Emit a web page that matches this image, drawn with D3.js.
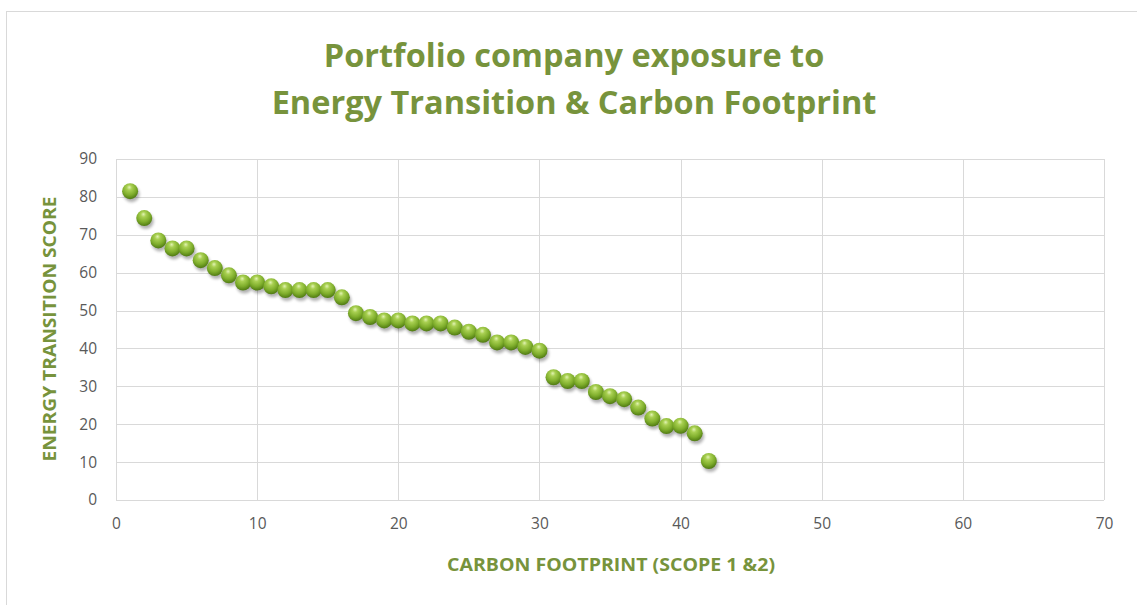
<!DOCTYPE html>
<html>
<head>
<meta charset="utf-8">
<script src="https://cdn.jsdelivr.net/npm/d3@7"></script>
<style>
  html, body { margin: 0; padding: 0; background: #fff; }
  svg { display: block; }
</style>
</head>
<body>
<svg id="chart" width="1137" height="605"></svg>
<script>
const titleLines = ["Portfolio company exposure to", "Energy Transition & Carbon Footprint"];
const xTitle = "CARBON FOOTPRINT (SCOPE 1 &2)";
const yTitle = "ENERGY TRANSITION SCORE";
const xTicks = [0, 10, 20, 30, 40, 50, 60, 70];
const yTicks = [0, 10, 20, 30, 40, 50, 60, 70, 80, 90];
const carbonFootprint = [1,2,3,4,5,6,7,8,9,10,11,12,13,14,15,16,17,18,19,20,21,22,23,24,25,26,27,28,29,30,31,32,33,34,35,36,37,38,39,40,41,42];
const transitionScore = [81.5,74.4,68.5,66.4,66.4,63.3,61.2,59.3,57.4,57.4,56.4,55.4,55.4,55.4,55.4,53.5,49.3,48.3,47.4,47.4,46.6,46.6,46.6,45.5,44.4,43.6,41.6,41.6,40.4,39.4,32.4,31.4,31.4,28.5,27.4,26.6,24.4,21.5,19.5,19.6,17.6,10.3];

const svg = d3.select("#chart");
const W = 1137, H = 605;
const m = { left: 116, right: 1104, top: 159, bottom: 500 };
const green = "#77933C";

// outer frame
svg.append("rect").attr("x", 6.5).attr("y", 11.5).attr("width", W).attr("height", H)
  .attr("fill", "#fff").attr("stroke", "#d9d9d9").attr("stroke-width", 1);

const x = d3.scaleLinear().domain([0, 70]).range([m.left, m.right]);
const y = d3.scaleLinear().domain([0, 90]).range([m.bottom, m.top]);

const defs = svg.append("defs");
const grad = defs.append("radialGradient").attr("id", "ball")
  .attr("cx", "45%").attr("cy", "35%").attr("r", "65%").attr("fx", "45%").attr("fy", "25%");
grad.append("stop").attr("offset", "0%").attr("stop-color", "#e2f3b4");
grad.append("stop").attr("offset", "25%").attr("stop-color", "#a9d052");
grad.append("stop").attr("offset", "65%").attr("stop-color", "#7fae2c");
grad.append("stop").attr("offset", "100%").attr("stop-color", "#4f7a12");
const blur = defs.append("filter").attr("id", "shadow").attr("x", "-50%").attr("y", "-50%").attr("width", "200%").attr("height", "200%");
blur.append("feGaussianBlur").attr("stdDeviation", 1.8);

// gridlines
const grid = svg.append("g");
grid.selectAll("line.h").data(yTicks).join("line")
  .attr("x1", m.left).attr("x2", m.right)
  .attr("y1", d => Math.round(y(d)) + 0.5).attr("y2", d => Math.round(y(d)) + 0.5)
  .attr("stroke", "#d9d9d9").attr("stroke-width", 1);
grid.selectAll("line.v").data(xTicks).join("line")
  .attr("y1", m.top).attr("y2", m.bottom)
  .attr("x1", d => Math.round(x(d)) + 0.5).attr("x2", d => Math.round(x(d)) + 0.5)
  .attr("stroke", "#d9d9d9").attr("stroke-width", 1);

// axes (labels only)
const xAxis = svg.append("g").attr("transform", `translate(0,${m.bottom})`)
  .call(d3.axisBottom(x).tickValues(xTicks).tickSize(0).tickPadding(18));
const yAxis = svg.append("g").attr("transform", `translate(${m.left},0)`)
  .call(d3.axisLeft(y).tickValues(yTicks).tickSize(0).tickPadding(19));
[xAxis, yAxis].forEach(a => {
  a.select(".domain").remove();
  a.selectAll("text").attr("fill", "#595959").attr("font-family", "'Open Sans', sans-serif").attr("font-size", 15.5);
});

// points
const pts = carbonFootprint.map((c, i) => ({ c, s: transitionScore[i] }));
svg.append("g").selectAll("circle").data(pts).join("circle")
  .attr("cx", d => x(d.c) + 1.5).attr("cy", d => y(d.s) + 3)
  .attr("r", 8).attr("fill", "#000").attr("opacity", 0.3).attr("filter", "url(#shadow)");
svg.append("g").selectAll("circle").data(pts).join("circle")
  .attr("cx", d => x(d.c)).attr("cy", d => y(d.s))
  .attr("r", 8).attr("fill", "url(#ball)");

// title
const title = svg.append("text").attr("text-anchor", "middle")
  .attr("font-family", "'Open Sans', sans-serif").attr("font-weight", "bold")
  .attr("font-size", 32.5).attr("fill", green);
title.selectAll("tspan").data(titleLines).join("tspan")
  .attr("x", 574).attr("y", (d, i) => 67 + i * 47).text(d => d);

// axis titles
svg.append("text").attr("x", 611).attr("y", 571).attr("text-anchor", "middle")
  .attr("font-family", "'Open Sans', sans-serif").attr("font-weight", "bold")
  .attr("font-size", 17).attr("fill", green)
  .attr("textLength", 328).attr("lengthAdjust", "spacingAndGlyphs").text(xTitle);
svg.append("text").attr("transform", "translate(56,329) rotate(-90)").attr("text-anchor", "middle")
  .attr("font-family", "'Open Sans', sans-serif").attr("font-weight", "bold")
  .attr("font-size", 17).attr("fill", green)
  .attr("textLength", 265).attr("lengthAdjust", "spacingAndGlyphs").text(yTitle);
</script>
</body>
</html>
